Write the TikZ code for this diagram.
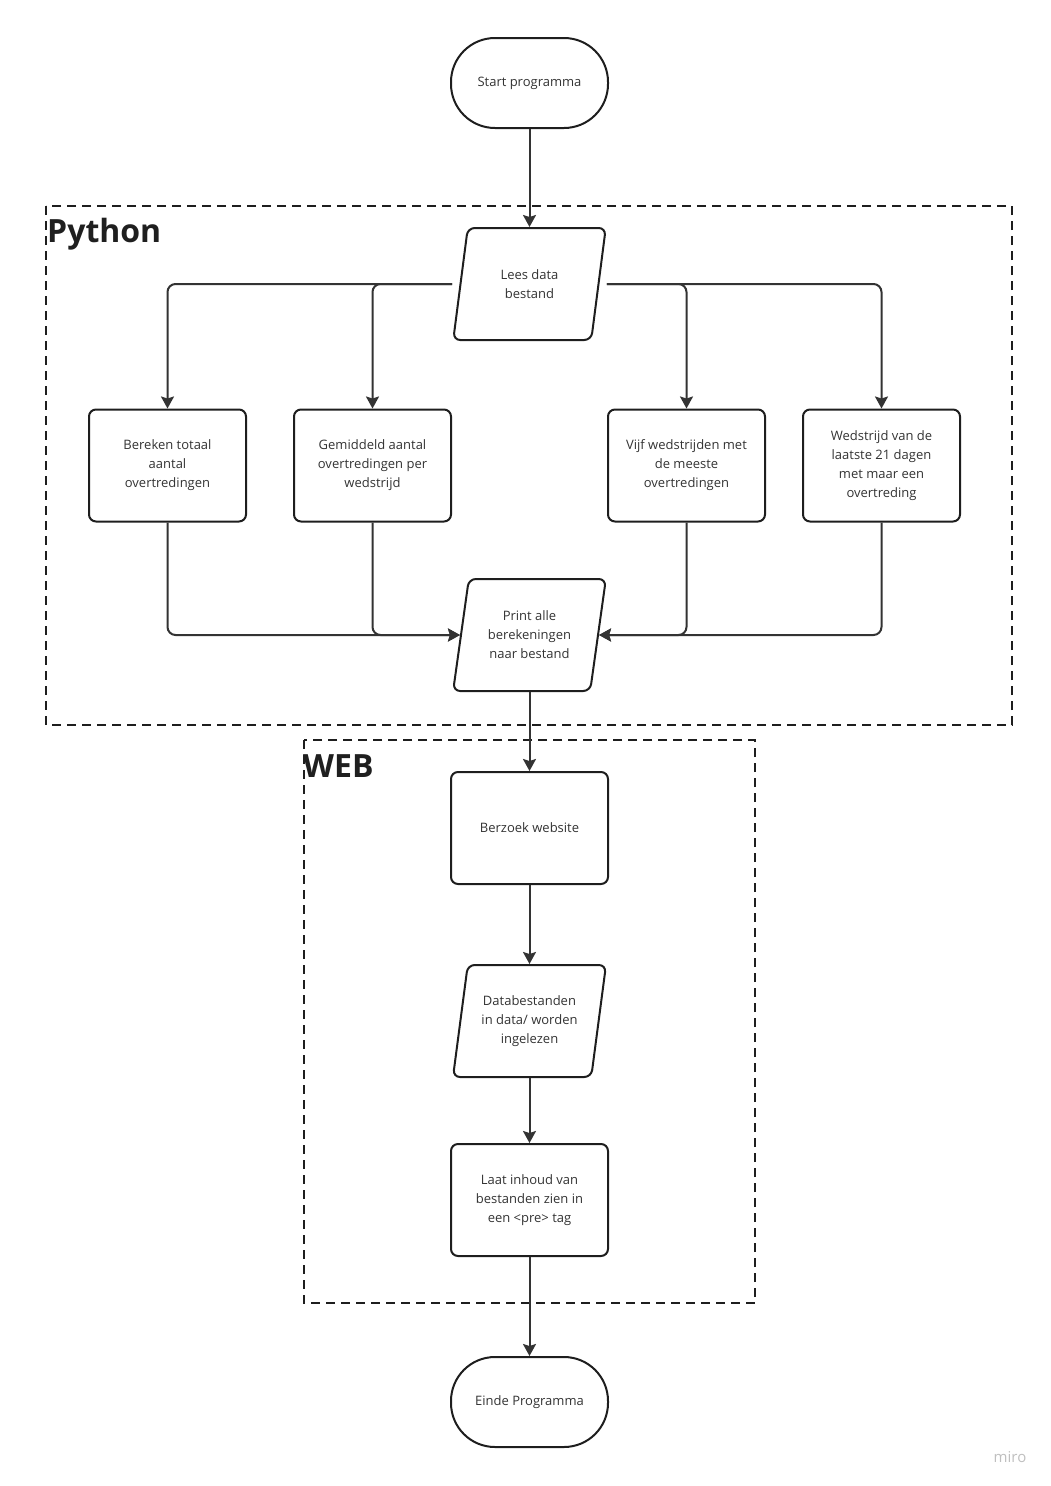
\documentclass[tikz,border=0pt]{standalone}
\usepackage{fontspec}
\setmainfont{Open Sans}
\usetikzlibrary{arrows.meta,shapes.geometric}
\definecolor{ink}{HTML}{333333}
\definecolor{edge}{HTML}{1E1E1E}

\begin{document}
\begin{tikzpicture}[x=1pt,y=-1pt,>={Stealth[length=12pt,width=13pt,inset=2pt]},
  txt/.style={text=ink,align=center,font=\fontsize{13}{19}\selectfont},
  proc/.style={txt,draw=edge,line width=2pt,rounded corners=7pt,minimum width=157pt,minimum height=112pt},
  term/.style={proc,rounded corners=44pt,minimum height=90pt},
  io/.style={txt,trapezium,trapezium left angle=78,trapezium right angle=102,trapezium stretches=true,
    draw=edge,line width=2pt,rounded corners=7pt,minimum width=153pt,minimum height=112pt},
  flow/.style={->,draw=ink,line width=2pt,rounded corners=8pt},
  zone/.style={draw=edge,line width=1.8pt,dash pattern=on 9pt off 6pt},
  zonelabel/.style={anchor=base west,inner sep=0pt,text=black!88,font=\fontsize{32}{38}\selectfont\bfseries}]
  \useasboundingbox (0,0) rectangle (1051,1486);

  % groups
  \draw[zone] (46,206) rectangle (1012,725);
  \node[zonelabel] (pylabel) at (47,242) {Python};
  \draw[zone] (304,740) rectangle (755,1303);
  \node[zonelabel] (weblabel) at (303,777) {WEB};

  % steps
  \node[term] (start) at (529.5,83) {Start programma};
  \node[io] (lees) at (529.5,284) {Lees data\\bestand};
  \node[proc] (totaal) at (167.5,465.5) {Bereken totaal\\aantal\\overtredingen};
  \node[proc] (gemid) at (372.5,465.5) {Gemiddeld aantal\\overtredingen per\\wedstrijd};
  \node[proc] (vijf) at (686.5,465.5) {Vijf wedstrijden met\\de meeste\\overtredingen};
  \node[proc] (laatste) at (881.5,465.5) {Wedstrijd van de\\laatste 21 dagen\\met maar een\\overtreding};
  \node[io] (print) at (529.5,635) {Print alle\\berekeningen\\naar bestand};
  \node[proc] (bezoek) at (529.5,828) {Berzoek website};
  \node[io] (inlezen) at (529.5,1021) {Databestanden\\in data/ worden\\ingelezen};
  \node[proc] (toon) at (529.5,1200) {Laat inhoud van\\bestanden zien in\\een <pre> tag};
  \node[term] (einde) at (529.5,1402) {Einde Programma};

  \node[text=black!25,font=\fontsize{15}{18}\selectfont] (miro) at (1010,1457) {miro};

  % connectors
  \draw[flow] (start) -- (lees);
  \draw[flow] (lees.bottom left corner |- lees.west) -| (totaal.north);
  \draw[flow] (lees.bottom left corner |- lees.west) -| (gemid.north);
  \draw[flow] (lees.top right corner |- lees.east) -| (vijf.north);
  \draw[flow] (lees.top right corner |- lees.east) -| (laatste.north);
  \draw[flow] (totaal.south) |- (print.west);
  \draw[flow] (gemid.south) |- (print.west);
  \draw[flow] (vijf.south) |- (print.east);
  \draw[flow] (laatste.south) |- (print.east);
  \draw[flow] (print) -- (bezoek);
  \draw[flow] (bezoek) -- (inlezen);
  \draw[flow] (inlezen) -- (toon);
  \draw[flow] (toon) -- (einde);
\end{tikzpicture}
\end{document}
